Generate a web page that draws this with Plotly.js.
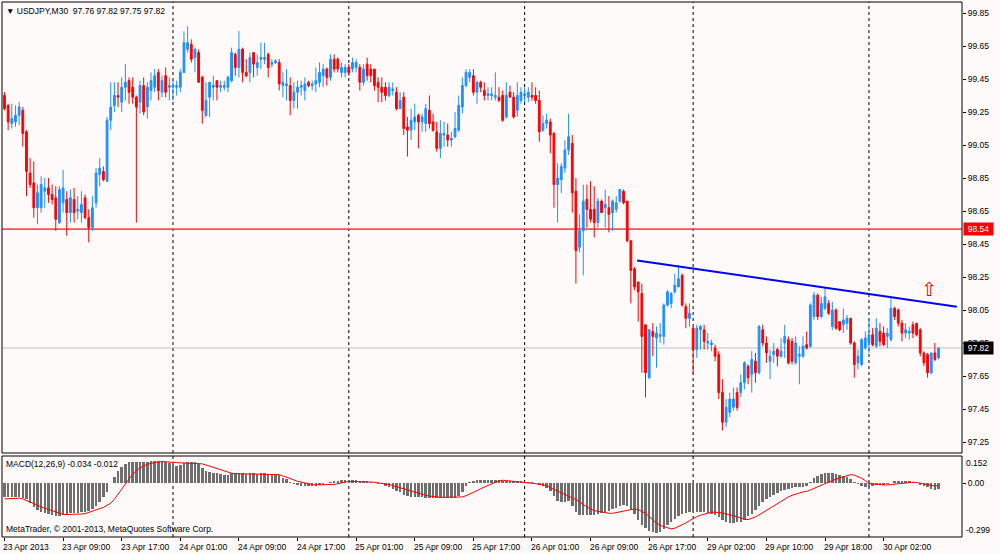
<!DOCTYPE html>
<html>
<head>
<meta charset="utf-8">
<script src="https://cdn.plot.ly/plotly-3.0.1.min.js"></script>
<style>
html, body { margin:0; padding:0; background:#fffafa; }
#chart { width:1000px; height:553px; }
</style>
</head>
<body>
<div id="chart"></div>
<script>
// USDJPY M30, 23 Apr 2013 01:00 .. 30 Apr 09:30 (256 bars)
var barOpen = [
99.35,99.29,99.18,99.19,99.23,99.26,99.13,98.88,98.82,98.67,
98.67,98.77,98.79,98.75,98.73,98.58,98.70,98.72,98.64,98.72,
98.65,98.64,98.73,98.61,98.55,98.70,98.87,98.89,98.83,99.20,
99.29,99.35,99.31,99.40,99.44,99.40,99.34,99.31,99.41,99.28,
99.38,99.40,99.49,99.37,99.47,99.40,99.40,99.40,99.40,99.49,
99.63,99.66,99.58,99.61,99.46,99.23,99.34,99.40,99.44,99.40,
99.40,99.40,99.44,99.60,99.52,99.63,99.49,99.49,99.61,99.52,
99.57,99.57,99.60,99.54,99.55,99.55,99.41,99.41,99.41,99.32,
99.37,99.40,99.38,99.43,99.41,99.42,99.43,99.47,99.51,99.46,
99.57,99.57,99.49,99.49,99.52,99.51,99.52,99.52,99.43,99.54,
99.51,99.51,99.43,99.40,99.40,99.35,99.38,99.37,99.27,99.34,
99.16,99.14,99.19,99.23,99.19,99.18,99.26,99.19,99.13,99.03,
99.11,99.11,99.08,99.10,99.14,99.28,99.41,99.46,99.47,99.37,
99.43,99.38,99.35,99.35,99.34,99.34,99.35,99.22,99.37,99.34,
99.26,99.32,99.35,99.34,99.35,99.35,99.32,99.14,99.18,99.19,
99.12,98.81,98.84,98.91,99.02,99.06,98.77,98.43,98.53,98.72,
98.66,98.66,98.58,98.71,98.67,98.67,98.64,98.66,98.71,98.77,
98.71,98.47,98.30,98.22,98.15,97.96,97.64,97.92,97.88,97.89,
97.89,98.08,98.09,98.16,98.19,98.26,98.07,98.00,97.94,97.81,
97.93,97.93,97.85,97.84,97.82,97.78,97.55,97.37,97.43,97.46,
97.55,97.55,97.61,97.71,97.66,97.74,97.67,97.93,97.85,97.74,
97.78,97.81,97.77,97.85,97.87,97.86,97.73,97.77,97.77,97.84,
97.83,98.01,98.14,98.01,98.06,98.09,97.95,98.05,97.98,97.96,
97.97,98.00,97.85,97.73,97.72,97.82,97.85,97.90,97.83,97.92,
97.91,97.89,97.87,98.06,98.05,97.97,97.91,97.91,97.96,97.97,
97.93,97.79,97.78,97.67,97.79,97.76];
var barHigh = [
99.37,99.30,99.30,99.29,99.31,99.28,99.14,98.97,98.95,98.81,
98.86,98.85,98.85,98.81,98.80,98.80,98.90,98.77,98.78,98.79,
98.74,98.77,98.75,98.66,98.74,98.91,98.97,98.92,99.22,99.43,
99.43,99.43,99.46,99.54,99.46,99.46,99.35,99.44,99.46,99.43,
99.49,99.51,99.51,99.47,99.52,99.46,99.44,99.44,99.51,99.74,
99.77,99.69,99.64,99.63,99.47,99.43,99.43,99.47,99.44,99.44,
99.44,99.47,99.64,99.61,99.74,99.64,99.57,99.61,99.61,99.60,
99.67,99.67,99.61,99.57,99.57,99.57,99.49,99.51,99.46,99.43,
99.44,99.44,99.46,99.44,99.44,99.52,99.55,99.54,99.52,99.60,
99.60,99.58,99.55,99.54,99.54,99.58,99.57,99.54,99.54,99.58,
99.54,99.51,99.46,99.46,99.43,99.43,99.43,99.40,99.37,99.37,
99.22,99.27,99.30,99.24,99.24,99.30,99.35,99.24,99.19,99.20,
99.19,99.18,99.13,99.25,99.35,99.46,99.51,99.51,99.51,99.44,
99.44,99.43,99.40,99.40,99.49,99.40,99.38,99.43,99.41,99.37,
99.43,99.40,99.40,99.40,99.43,99.40,99.38,99.23,99.24,99.21,
99.13,98.94,98.94,99.08,99.24,99.11,98.85,98.63,98.81,98.81,
98.83,98.80,98.73,98.72,98.78,98.74,98.72,98.74,98.78,98.78,
98.71,98.47,98.31,98.22,98.21,97.96,97.93,97.97,97.95,97.97,
98.09,98.17,98.16,98.27,98.32,98.27,98.09,98.09,97.95,97.96,
97.96,97.96,97.91,97.87,97.84,97.80,97.63,97.51,97.55,97.58,
97.58,97.66,97.74,97.72,97.80,97.79,97.96,97.96,97.89,97.81,
97.85,97.82,97.88,97.96,97.89,97.88,97.89,97.83,97.89,97.92,
98.09,98.16,98.15,98.13,98.19,98.11,98.10,98.06,97.98,98.06,
98.02,98.00,97.86,97.81,97.88,97.92,98.00,97.94,98.00,97.97,
97.95,97.94,98.12,98.07,98.06,97.99,97.97,97.95,97.98,97.97,
97.94,97.80,97.79,97.79,97.85,97.82];
var barLow = [
99.26,99.14,99.15,99.16,99.17,99.04,98.74,98.79,98.61,98.57,
98.64,98.67,98.70,98.69,98.53,98.57,98.64,98.50,98.58,98.58,
98.60,98.58,98.60,98.46,98.53,98.67,98.80,98.83,98.83,99.14,
99.25,99.28,99.25,99.32,99.30,99.30,98.58,99.24,99.23,99.21,
99.32,99.37,99.32,99.34,99.34,99.32,99.32,99.35,99.37,99.49,
99.61,99.55,99.49,99.43,99.18,99.22,99.22,99.32,99.32,99.37,
99.38,99.37,99.43,99.47,99.46,99.43,99.46,99.43,99.46,99.47,
99.51,99.54,99.46,99.52,99.54,99.38,99.34,99.32,99.23,99.27,
99.27,99.35,99.32,99.40,99.38,99.37,99.40,99.40,99.41,99.44,
99.49,99.49,99.46,99.46,99.47,99.49,99.49,99.38,99.41,99.44,
99.43,99.38,99.31,99.31,99.32,99.34,99.35,99.26,99.27,99.11,
98.98,99.08,99.14,99.03,99.13,99.13,99.15,99.13,99.01,98.97,
99.04,99.04,99.04,99.09,99.13,99.24,99.40,99.43,99.35,99.30,
99.37,99.32,99.32,99.32,99.32,99.31,99.19,99.21,99.34,99.21,
99.22,99.30,99.31,99.31,99.32,99.30,99.07,99.13,99.15,99.00,
98.67,98.58,98.76,98.88,98.99,98.64,98.21,98.40,98.26,98.55,
98.58,98.49,98.55,98.64,98.55,98.52,98.53,98.64,98.70,98.69,
98.46,98.09,98.17,97.98,97.67,97.52,97.63,97.77,97.70,97.85,
97.84,98.07,98.06,98.15,98.19,98.07,97.94,97.95,97.66,97.76,
97.81,97.81,97.81,97.80,97.74,97.51,97.32,97.34,97.40,97.44,
97.44,97.52,97.57,97.60,97.55,97.61,97.66,97.83,97.73,97.63,
97.73,97.71,97.76,97.76,97.72,97.72,97.72,97.60,97.76,97.81,
97.82,97.99,97.99,98.00,98.05,98.02,97.93,97.93,97.92,97.91,
97.93,97.84,97.64,97.69,97.71,97.81,97.79,97.83,97.82,97.83,
97.83,97.82,97.86,97.99,97.95,97.86,97.88,97.87,97.88,97.89,
97.77,97.71,97.64,97.66,97.74,97.75];
var barClose = [
99.27,99.19,99.21,99.23,99.28,99.12,98.89,98.81,98.67,98.76,
98.81,98.79,98.75,98.72,98.60,98.78,98.79,98.64,98.73,98.64,
98.66,98.69,98.61,98.55,98.67,98.88,98.91,98.84,99.20,99.28,
99.35,99.34,99.40,99.43,99.37,99.34,99.28,99.41,99.25,99.40,
99.44,99.47,99.38,99.44,99.37,99.41,99.41,99.41,99.49,99.67,
99.67,99.57,99.63,99.43,99.26,99.32,99.43,99.41,99.40,99.41,
99.41,99.46,99.61,99.52,99.63,99.49,99.47,99.58,99.54,99.55,
99.58,99.58,99.52,99.55,99.56,99.42,99.43,99.42,99.32,99.37,
99.40,99.41,99.42,99.41,99.42,99.44,99.49,99.51,99.46,99.57,
99.51,99.51,99.52,99.52,99.49,99.55,99.55,99.43,99.51,99.47,
99.47,99.41,99.40,99.37,99.35,99.40,99.39,99.27,99.32,99.15,
99.14,99.20,99.22,99.19,99.22,99.27,99.18,99.14,99.03,99.12,
99.12,99.08,99.09,99.15,99.29,99.41,99.49,99.49,99.37,99.43,
99.40,99.35,99.36,99.36,99.35,99.32,99.20,99.35,99.34,99.22,
99.35,99.37,99.36,99.37,99.34,99.32,99.13,99.18,99.20,99.11,
98.81,98.85,98.92,99.02,99.10,98.76,98.41,98.53,98.71,98.66,
98.60,98.58,98.71,98.64,98.69,98.63,98.71,98.70,98.78,98.70,
98.47,98.29,98.19,98.16,97.89,97.67,97.93,97.89,97.91,97.90,
98.08,98.16,98.15,98.20,98.24,98.08,98.00,98.03,97.81,97.94,
97.95,97.86,97.86,97.85,97.77,97.55,97.37,97.46,97.51,97.51,
97.46,97.61,97.73,97.64,97.75,97.67,97.95,97.85,97.79,97.77,
97.80,97.77,97.80,97.89,97.73,97.74,97.85,97.78,97.83,97.82,
98.08,98.14,98.01,98.09,98.13,98.03,98.05,97.94,97.93,97.99,
98.00,97.85,97.72,97.77,97.87,97.88,97.90,97.84,97.94,97.86,
97.84,97.91,98.06,98.01,97.97,97.91,97.93,97.92,97.91,97.90,
97.79,97.73,97.67,97.79,97.75,97.82];

// MACD(12,26,9): main line (histogram) and signal line
var macdMain = [
-0.078,-0.078,-0.078,-0.078,-0.078,-0.080,-0.089,-0.108,-0.130,-0.148,
-0.158,-0.167,-0.171,-0.176,-0.182,-0.182,-0.174,-0.169,-0.167,-0.163,
-0.163,-0.161,-0.158,-0.152,-0.143,-0.126,-0.106,-0.078,-0.046,0.002,
0.037,0.069,0.089,0.108,0.117,0.119,0.121,0.121,0.121,0.121,
0.122,0.126,0.124,0.122,0.117,0.111,0.106,0.098,0.100,0.111,
0.121,0.121,0.121,0.108,0.083,0.071,0.065,0.059,0.056,0.050,
0.046,0.048,0.056,0.056,0.055,0.055,0.054,0.055,0.055,0.054,
0.055,0.055,0.054,0.054,0.052,0.046,0.032,0.022,0.009,-0.004,
-0.011,-0.015,-0.015,-0.015,-0.015,-0.013,-0.009,-0.004,0.002,0.006,
0.011,0.015,0.017,0.019,0.019,0.019,0.017,0.015,0.015,0.013,
0.009,0.004,-0.002,-0.006,-0.013,-0.020,-0.030,-0.041,-0.050,-0.063,
-0.071,-0.076,-0.078,-0.078,-0.078,-0.080,-0.080,-0.082,-0.083,-0.083,
-0.083,-0.083,-0.083,-0.082,-0.071,-0.046,-0.015,0.006,0.013,0.019,
0.020,0.020,0.020,0.020,0.019,0.019,0.015,0.015,0.015,0.015,
0.013,0.011,0.009,0.007,0.006,0.002,-0.009,-0.017,-0.024,-0.041,
-0.069,-0.096,-0.106,-0.104,-0.100,-0.128,-0.161,-0.174,-0.174,-0.174,
-0.176,-0.174,-0.171,-0.163,-0.158,-0.152,-0.145,-0.137,-0.126,-0.121,
-0.124,-0.147,-0.171,-0.204,-0.230,-0.250,-0.263,-0.271,-0.276,-0.271,
-0.254,-0.234,-0.215,-0.197,-0.182,-0.173,-0.165,-0.161,-0.161,-0.161,
-0.161,-0.161,-0.163,-0.169,-0.178,-0.189,-0.204,-0.215,-0.219,-0.219,
-0.217,-0.213,-0.204,-0.182,-0.171,-0.148,-0.126,-0.104,-0.089,-0.076,
-0.063,-0.054,-0.045,-0.037,-0.032,-0.024,-0.022,-0.022,-0.019,-0.013,
0.009,0.030,0.039,0.050,0.056,0.058,0.058,0.052,0.046,0.043,
0.033,0.022,0.009,-0.006,-0.015,-0.019,-0.024,-0.015,-0.009,-0.007,
-0.009,-0.004,0.000,0.011,0.011,0.011,0.011,0.011,0.009,0.002,
-0.007,-0.013,-0.022,-0.032,-0.037,-0.034];
var macdSignal = [
-0.087,-0.085,-0.085,-0.083,-0.083,-0.087,-0.095,-0.104,-0.113,-0.122,
-0.132,-0.139,-0.148,-0.156,-0.163,-0.169,-0.173,-0.174,-0.174,-0.173,
-0.173,-0.171,-0.169,-0.163,-0.156,-0.148,-0.141,-0.134,-0.122,-0.111,
-0.089,-0.059,-0.030,-0.004,0.024,0.048,0.071,0.085,0.096,0.106,
0.111,0.117,0.119,0.121,0.121,0.119,0.117,0.115,0.113,0.111,
0.111,0.111,0.111,0.111,0.108,0.102,0.095,0.087,0.082,0.074,
0.067,0.059,0.056,0.054,0.052,0.052,0.052,0.052,0.052,0.052,
0.052,0.052,0.052,0.052,0.052,0.048,0.041,0.035,0.026,0.019,
0.011,0.006,0.000,-0.004,-0.007,-0.009,-0.009,-0.009,-0.009,-0.007,
-0.006,-0.002,0.004,0.007,0.011,0.011,0.011,0.011,0.011,0.009,
0.007,0.006,0.004,0.000,-0.004,-0.007,-0.013,-0.019,-0.024,-0.032,
-0.039,-0.046,-0.052,-0.058,-0.063,-0.067,-0.071,-0.074,-0.076,-0.078,
-0.078,-0.078,-0.078,-0.078,-0.078,-0.076,-0.069,-0.061,-0.050,-0.041,
-0.030,-0.020,-0.011,-0.002,0.006,0.013,0.017,0.015,0.013,0.011,
0.009,0.007,0.006,0.004,0.002,-0.002,-0.006,-0.009,-0.013,-0.024,
-0.033,-0.043,-0.052,-0.061,-0.072,-0.082,-0.091,-0.104,-0.119,-0.132,
-0.143,-0.152,-0.156,-0.161,-0.165,-0.167,-0.167,-0.163,-0.160,-0.156,
-0.152,-0.147,-0.143,-0.147,-0.156,-0.167,-0.186,-0.204,-0.221,-0.234,
-0.241,-0.250,-0.254,-0.250,-0.241,-0.232,-0.221,-0.208,-0.195,-0.186,
-0.178,-0.173,-0.167,-0.161,-0.161,-0.161,-0.165,-0.171,-0.174,-0.180,
-0.187,-0.195,-0.200,-0.202,-0.195,-0.187,-0.176,-0.163,-0.152,-0.139,
-0.126,-0.115,-0.102,-0.087,-0.076,-0.067,-0.059,-0.054,-0.048,-0.045,
-0.037,-0.028,-0.019,-0.009,0.000,0.009,0.017,0.024,0.030,0.037,
0.045,0.048,0.046,0.039,0.028,0.015,0.002,-0.004,-0.007,-0.009,
-0.009,-0.009,-0.007,-0.004,0.000,0.002,0.004,0.006,0.006,0.004,
0.000,-0.004,-0.007,-0.011,-0.015,-0.012];

var timeTickBars = [1,17,33,49,65,81,97,113,129,145,161,177,193,209,225,241];
var timeTickText = ["23 Apr 2013","23 Apr 09:00","23 Apr 17:00","24 Apr 01:00","24 Apr 09:00",
  "24 Apr 17:00","25 Apr 01:00","25 Apr 09:00","25 Apr 17:00","26 Apr 01:00","26 Apr 09:00",
  "26 Apr 17:00","29 Apr 02:00","29 Apr 10:00","29 Apr 18:00","30 Apr 02:00"];
var daySeparatorBars = [47,95,143,189,237];
var priceTicks = [97.25,97.45,97.65,97.85,98.05,98.25,98.45,98.65,98.85,99.05,99.25,99.45,99.65,99.85];
var levelPrice = 98.54;
var trendBars = [173.7, 261.0];
var trendPrices = [98.35, 98.07];
var arrowBars = [253.4];
var arrowPrices = [98.18];
var macdMax = 0.152;
var macdMin = -0.299;

var font = "Liberation Sans, Arial, sans-serif";
var fs = 8.5;

function barNumbers(n) {
  var arr = [];
  for (var i = 1; i <= n; i++) arr.push(i);
  return arr;
}

var bars = barNumbers(barClose.length);
var last = barClose.length - 1;
var bid = barClose[last];

var candles = {
  type: 'candlestick',
  x: bars, open: barOpen, high: barHigh, low: barLow, close: barClose,
  xaxis: 'x', yaxis: 'y',
  increasing: {line: {color: '#1e90ff', width: 1}, fillcolor: '#1e90ff'},
  decreasing: {line: {color: '#ff0000', width: 1}, fillcolor: '#ff0000'},
  whiskerwidth: 0,
  hoverinfo: 'skip'
};

var trend = {
  type: 'scatter', mode: 'lines',
  x: trendBars, y: trendPrices,
  xaxis: 'x', yaxis: 'y',
  line: {color: '#0000ff', width: 2},
  hoverinfo: 'skip'
};

var hist = {
  type: 'bar', x: bars, y: macdMain,
  xaxis: 'x2', yaxis: 'y2',
  width: 0.68,
  marker: {color: '#6e6e6e', line: {width: 0}},
  hoverinfo: 'skip'
};

var signal = {
  type: 'scatter', mode: 'lines', x: bars, y: macdSignal,
  xaxis: 'x2', yaxis: 'y2',
  line: {color: '#ff0000', width: 1},
  hoverinfo: 'skip'
};

var shapes = [];
// pane frames
shapes.push({type: 'rect', xref: 'paper', yref: 'paper', x0: 0, x1: 1, y0: 0.157, y1: 1, line: {color: '#000', width: 1}});
shapes.push({type: 'rect', xref: 'paper', yref: 'paper', x0: 0, x1: 1, y0: 0, y1: 0.1514, line: {color: '#000', width: 1}});
// period separators
for (var i = 0; i < daySeparatorBars.length; i++) {
  shapes.push({type: 'line', xref: 'x', yref: 'paper', x0: daySeparatorBars[i], x1: daySeparatorBars[i], y0: 0, y1: 1,
    line: {color: '#000', width: 1, dash: '3px,3px'}, layer: 'below'});
}
// horizontal level and bid line
shapes.push({type: 'line', xref: 'paper', yref: 'y', x0: 0, x1: 1, y0: levelPrice, y1: levelPrice,
  line: {color: '#ff5050', width: 1.6}, layer: 'below'});
shapes.push({type: 'line', xref: 'paper', yref: 'y', x0: 0, x1: 1, y0: bid, y1: bid,
  line: {color: '#c0c0c0', width: 1}, layer: 'below'});

var annotations = [];
var hdr = '\u25bc USDJPY,M30\u00a0\u00a0' + barOpen[last].toFixed(2) + ' ' + barHigh[last].toFixed(2) + ' ' +
  barLow[last].toFixed(2) + ' ' + barClose[last].toFixed(2);
annotations.push({xref: 'paper', yref: 'paper', x: 0, y: 1, xanchor: 'left', yanchor: 'top', xshift: 2, yshift: -2,
  text: hdr, showarrow: false, font: {family: font, size: fs, color: '#000'}});
annotations.push({xref: 'paper', yref: 'paper', x: 0, y: 0.1514, xanchor: 'left', yanchor: 'top', xshift: 2, yshift: -1,
  text: 'MACD(12,26,9) ' + macdMain[last].toFixed(3) + ' ' + macdSignal[last].toFixed(3),
  showarrow: false, font: {family: font, size: fs, color: '#000'}});
annotations.push({xref: 'paper', yref: 'paper', x: 0, y: 0, xanchor: 'left', yanchor: 'bottom', xshift: 2, yshift: 1,
  text: 'MetaTrader, \u00a9 2001-2013, MetaQuotes Software Corp.',
  showarrow: false, font: {family: font, size: fs, color: '#000'}});
// time labels
for (var j = 0; j < timeTickBars.length; j++) {
  annotations.push({xref: 'x2', yref: 'paper', x: timeTickBars[j], y: 0, xanchor: 'left', yanchor: 'top',
    xshift: -3, yshift: -3, text: timeTickText[j], showarrow: false,
    font: {family: font, size: fs, color: '#000'}});
}
// macd scale labels
annotations.push({xref: 'paper', yref: 'y2', x: 1, y: macdMax, xanchor: 'left', yanchor: 'top', xshift: 2,
  text: macdMax.toFixed(3), showarrow: false, font: {family: font, size: fs, color: '#000'}});
annotations.push({xref: 'paper', yref: 'y2', x: 1, y: macdMin, xanchor: 'left', yanchor: 'bottom', xshift: 2,
  text: macdMin.toFixed(3), showarrow: false, font: {family: font, size: fs, color: '#000'}});
// price boxes on the scale
annotations.push({xref: 'paper', yref: 'y', x: 1, y: levelPrice, xanchor: 'left', yanchor: 'middle', xshift: 1,
  text: levelPrice.toFixed(2), showarrow: false, bgcolor: '#ff0000', borderpad: 1, width: 27,
  font: {family: font, size: fs, color: '#fff'}});
annotations.push({xref: 'paper', yref: 'y', x: 1, y: bid, xanchor: 'left', yanchor: 'middle', xshift: 1,
  text: bid.toFixed(2), showarrow: false, bgcolor: '#000', borderpad: 1, width: 27,
  font: {family: font, size: fs, color: '#fff'}});
// up arrow object
for (var k = 0; k < arrowBars.length; k++) {
  annotations.push({xref: 'x', yref: 'y', x: arrowBars[k], y: arrowPrices[k], text: '\u21e7', showarrow: false,
    font: {family: 'DejaVu Sans', size: 19, color: '#ff0000'}});
}

var xRange = [0.32, 262.4];

var layout = {
  width: 1000, height: 553,
  margin: {l: 2, r: 38, t: 2, b: 16},
  paper_bgcolor: '#fffafa', plot_bgcolor: '#fffafa',
  showlegend: false,
  font: {family: font, size: fs, color: '#000'},
  bargap: 0,
  xaxis: {domain: [0, 1], anchor: 'y', range: xRange, type: 'linear', showgrid: false, zeroline: false,
    showticklabels: false, ticks: '', rangeslider: {visible: false}, fixedrange: true},
  xaxis2: {domain: [0, 1], anchor: 'y2', range: xRange, type: 'linear', showgrid: false, zeroline: false,
    showticklabels: false, ticks: 'outside', ticklen: 3, tickcolor: '#000', tickvals: timeTickBars, fixedrange: true},
  yaxis: {domain: [0.157, 1], anchor: 'x', side: 'right', range: [97.1833, 99.9167], showgrid: false, zeroline: false,
    tickvals: priceTicks, ticktext: priceTicks.map(function (v) { return v.toFixed(2); }),
    ticks: 'outside', ticklen: 3, tickcolor: '#000', tickfont: {family: font, size: fs, color: '#000'}, fixedrange: true},
  yaxis2: {domain: [0, 0.1514], anchor: 'x2', side: 'right', range: [macdMin, macdMax], showgrid: false, zeroline: false,
    tickvals: [0], ticktext: ['0.00'], ticks: 'outside', ticklen: 3, tickcolor: '#000',
    tickfont: {family: font, size: fs, color: '#000'}, fixedrange: true},
  shapes: shapes,
  annotations: annotations
};

Plotly.newPlot('chart', [candles, trend, hist, signal], layout, {staticPlot: true, displayModeBar: false});
</script>
</body>
</html>
